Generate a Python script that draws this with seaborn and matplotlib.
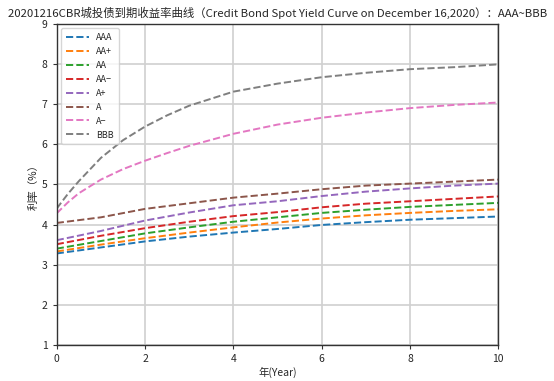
import matplotlib
matplotlib.use("Agg")
import matplotlib.pyplot as plt
import seaborn as sns
import pandas as pd

grades = ["AAA", "AA+", "AA", "AA-", "A+", "A", "A-", "BBB"]
legend_labels = ["AAA", "AA+", "AA", "AA−", "A+", "A", "A−", "BBB"]

years = [0, 1, 2, 3, 4, 5, 6, 7, 8, 9, 10]
aaa = [3.28, 3.43, 3.58, 3.70, 3.80, 3.89, 3.99, 4.06, 4.12, 4.16, 4.20]
aa_plus = [3.33, 3.50, 3.66, 3.80, 3.93, 4.05, 4.15, 4.23, 4.29, 4.34, 4.38]
aa = [3.40, 3.59, 3.78, 3.93, 4.07, 4.18, 4.29, 4.37, 4.44, 4.49, 4.54]
aa_minus = [3.51, 3.72, 3.91, 4.07, 4.21, 4.31, 4.43, 4.52, 4.58, 4.64, 4.70]
a_plus = [3.61, 3.84, 4.10, 4.30, 4.48, 4.58, 4.71, 4.82, 4.90, 4.97, 5.02]
a_mid = [4.04, 4.18, 4.39, 4.53, 4.67, 4.77, 4.88, 4.97, 5.02, 5.07, 5.12]

years_fine = [0, 0.25, 0.5, 1, 1.5, 2, 2.5, 3, 4, 5, 6, 7, 8, 9, 10]
a_minus = [4.28, 4.55, 4.78, 5.12, 5.38, 5.59, 5.78, 5.96, 6.26, 6.49, 6.66, 6.79, 6.90, 6.98, 7.04]
bbb = [4.40, 4.76, 5.08, 5.66, 6.10, 6.44, 6.72, 6.96, 7.31, 7.51, 7.67, 7.78, 7.87, 7.92, 7.99]

series = {
    "AAA": (years, aaa), "AA+": (years, aa_plus), "AA": (years, aa),
    "AA-": (years, aa_minus), "A+": (years, a_plus), "A": (years, a_mid),
    "A-": (years_fine, a_minus), "BBB": (years_fine, bbb),
}
rows = []
for g in grades:
    xs, ys = series[g]
    for x, y in zip(xs, ys):
        rows.append({"year": x, "rate": y, "grade": g})
df = pd.DataFrame(rows)

sns.set_style("white")
plt.rcParams["font.family"] = ["Noto Sans CJK SC", "DejaVu Sans"]
plt.rcParams["axes.unicode_minus"] = False

fig = plt.figure(figsize=(5.54, 3.81), dpi=100)
ax = fig.add_axes([0.1024, 0.0945, 0.797, 0.843])
palette = sns.color_palette("tab10", 8)
sns.lineplot(data=df, x="year", y="rate", hue="grade", hue_order=grades,
             palette=palette, linestyle="--", linewidth=1.4, ax=ax, legend=True)

ax.set_xlim(0, 10)
ax.set_ylim(1, 9)
ax.set_xticks([0, 2, 4, 6, 8, 10])
ax.set_yticks(range(1, 10))
ax.grid(True, color="#d0d0d0", linewidth=1.2)
ax.set_axisbelow(True)
for s in ax.spines.values():
    s.set_color("#333333")
    s.set_linewidth(1.0)
ax.tick_params(axis="both", labelsize=7.5, length=3, color="#333333", direction="out")
ax.tick_params(axis="both", which="both", bottom=True, left=True)

handles, _ = ax.get_legend_handles_labels()
ax.legend(handles[:8], legend_labels, loc="upper left", fontsize=6.5,
          frameon=True, framealpha=0.8, handlelength=2.6, labelspacing=0.55,
          borderpad=0.5)

ax.set_xlabel("年(Year)", fontsize=7.5, labelpad=2)
ax.set_ylabel("利率（%）", fontsize=7.5, labelpad=2)
ax.set_title("20201216CBR城投债到期收益率曲线（Credit Bond Spot Yield Curve on December 16,2020）：AAA~BBB",
             fontsize=8.2, pad=5)

fig.savefig("out.png", dpi=100)
